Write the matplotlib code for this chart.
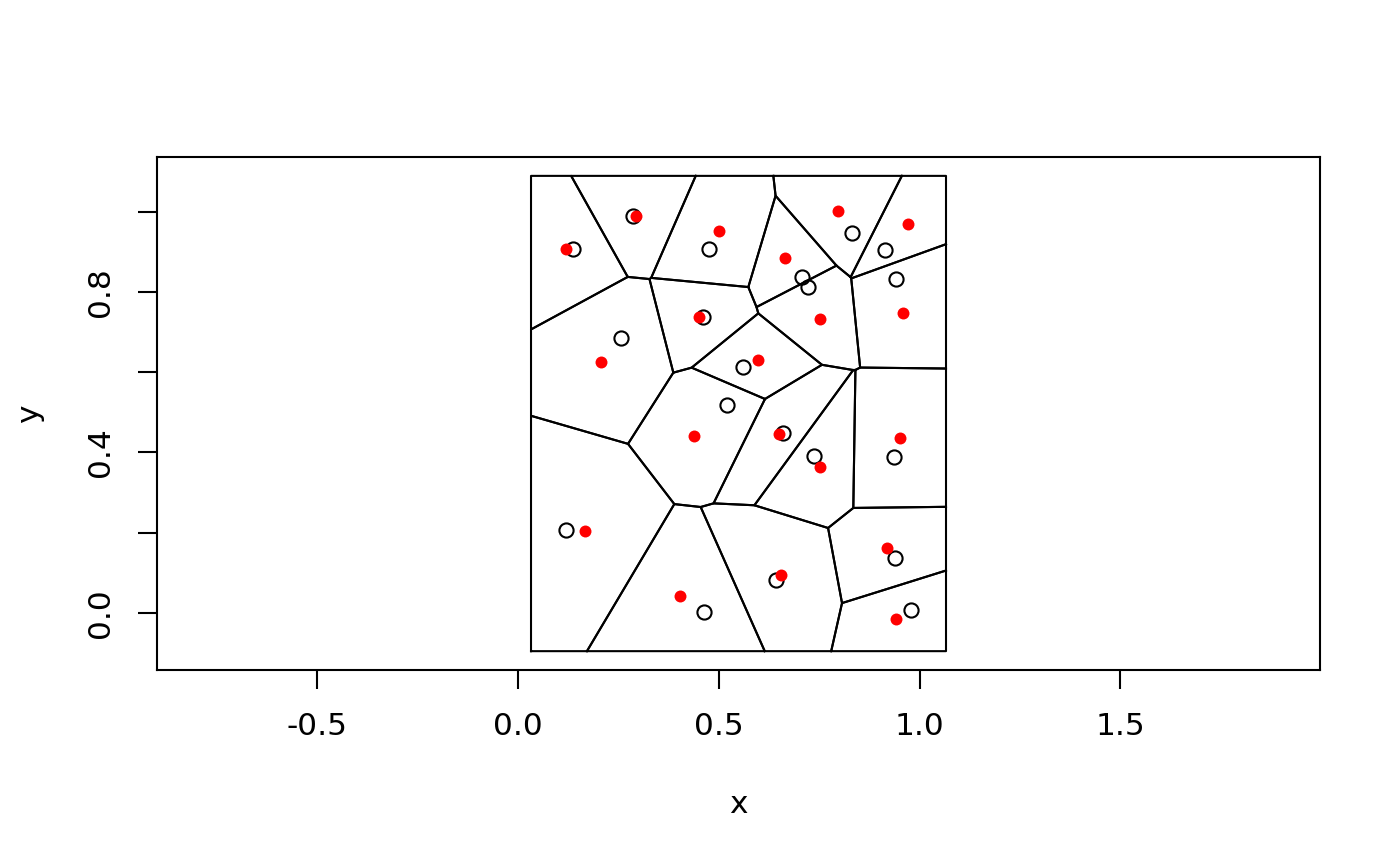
import matplotlib
matplotlib.use("Agg")
import matplotlib.pyplot as plt
import numpy as np

# generator points (open circles)
gen_x = [0.136, 0.286, 0.476, 0.460, 0.256, 0.520, 0.561, 0.832, 0.915, 0.941,
         0.707, 0.721, 0.118, 0.463, 0.660, 0.738, 0.936, 0.939, 0.643, 0.980]
gen_y = [0.906, 0.990, 0.907, 0.737, 0.685, 0.517, 0.613, 0.947, 0.905, 0.833,
         0.838, 0.811, 0.208, 0.003, 0.448, 0.391, 0.388, 0.138, 0.083, 0.007]

# tile centroids (red dots)
cen_x = [0.119, 0.294, 0.501, 0.451, 0.207, 0.796, 0.971, 0.665, 0.751, 0.959,
         0.598, 0.439, 0.167, 0.404, 0.650, 0.751, 0.951, 0.920, 0.654, 0.942]
cen_y = [0.906, 0.990, 0.952, 0.737, 0.625, 1.001, 0.970, 0.885, 0.733, 0.748,
         0.631, 0.441, 0.204, 0.042, 0.446, 0.365, 0.437, 0.163, 0.094, -0.014]

# tessellation window
win_x = [0.032, 1.066]
win_y = [-0.095, 1.089]


def clip_poly(poly, a, b, c):
    # keep the part of poly with a*x + b*y <= c
    out = []
    n = len(poly)
    for i in range(n):
        p = poly[i]
        q = poly[(i + 1) % n]
        fp = a * p[0] + b * p[1] - c
        fq = a * q[0] + b * q[1] - c
        if fp <= 0:
            out.append(p)
        if fp * fq < 0:
            t = fp / (fp - fq)
            out.append((p[0] + t * (q[0] - p[0]), p[1] + t * (q[1] - p[1])))
    return out


def voronoi_tiles(xs, ys, wx, wy):
    pts = np.column_stack([xs, ys])
    tiles = []
    for i, pi in enumerate(pts):
        poly = [(wx[0], wy[0]), (wx[1], wy[0]), (wx[1], wy[1]), (wx[0], wy[1])]
        for j, pj in enumerate(pts):
            if i == j:
                continue
            a, b = pj - pi
            c = (pj @ pj - pi @ pi) / 2
            poly = clip_poly(poly, a, b, c)
        tiles.append(np.array(poly))
    return tiles


fig = plt.figure(figsize=(14, 8.66), dpi=100)
ax = fig.add_axes([0.1124, 0.2263, 0.8305, 0.5924])

for tile in voronoi_tiles(gen_x, gen_y, win_x, win_y):
    closed = np.vstack([tile, tile[:1]])
    ax.plot(closed[:, 0], closed[:, 1], color="black", lw=1.5, zorder=2)

ax.plot(gen_x, gen_y, "o", mfc="none", mec="black", ms=10.2, mew=1.5, zorder=3)
ax.plot(cen_x, cen_y, "o", color="red", ms=8.6, mew=0, zorder=4)

ax.set_xlim(-0.899, 1.998)
ax.set_ylim(-0.142, 1.136)

ax.set_xticks([-0.5, 0.0, 0.5, 1.0, 1.5])
ax.set_xticklabels(["-0.5", "0.0", "0.5", "1.0", "1.5"])
ax.set_yticks([0.0, 0.2, 0.4, 0.6, 0.8, 1.0])
ax.set_yticklabels(["0.0", "", "0.4", "", "0.8", ""], rotation=90, va="center")

ax.tick_params(direction="out", length=13.8, width=1.5, labelsize=22.5, pad=16.5)
for s in ax.spines.values():
    s.set_linewidth(1.5)

ax.set_xlabel("x", fontsize=22.5, va="center")
ax.xaxis.set_label_coords(0.5, -0.263)
ax.set_ylabel("y", fontsize=22.5, va="center")
ax.yaxis.set_label_coords(-0.1095, 0.5)

fig.savefig("out.png", dpi=100)
